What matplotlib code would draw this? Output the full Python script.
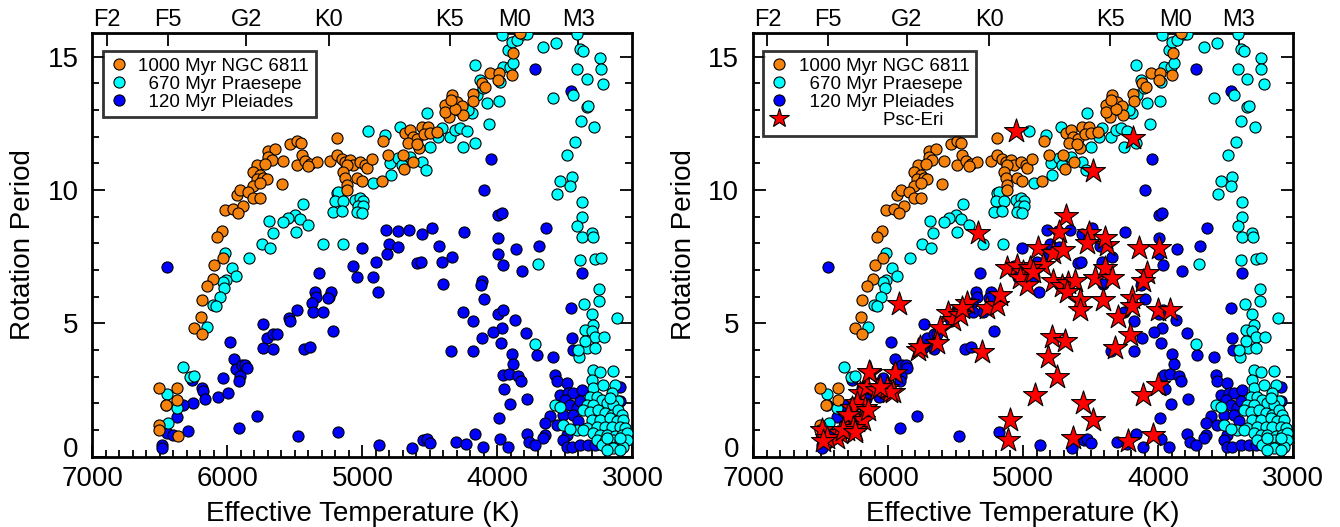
import matplotlib
matplotlib.use("Agg")
import matplotlib.pyplot as plt
from matplotlib.lines import Line2D
from matplotlib.ticker import MultipleLocator
import numpy as np

plt.rcParams['font.family'] = ['Liberation Sans', 'DejaVu Sans']

# ---- data: (Teff [K], Prot [d]) ----
ngc6811 = np.array([
    (5191, 11.96), (5537, 11.71), (5488, 11.84), (5458, 11.76), (5698, 11.46), (5648, 11.53),
    (5698, 11.25), (5673, 11.13), (5779, 10.93), (5722, 10.98), (5586, 11.09), (5488, 10.94),
    (5451, 11.29), (5426, 11.09), (5389, 10.98), (5340, 11.04), (5401, 10.88), (5241, 11.09),
    (5191, 11.31), (5154, 11.16), (5130, 11.06), (5093, 11.13), (5068, 10.94), (5117, 10.94),
    (5019, 11.06), (4982, 10.94), (4969, 10.81), (4932, 11.16), (5142, 10.66), (5130, 10.44),
    (5043, 10.44), (5006, 10.35), (5117, 10.19), (5117, 10.0), (5809, 10.69), (5759, 10.56),
    (5784, 10.40), (5735, 10.44), (5710, 10.40), (5809, 10.13), (5759, 10.25), (5599, 10.23),
    (5932, 9.81), (5907, 10.0), (5846, 9.94), (5809, 9.69), (5759, 9.69), (6019, 9.25),
    (5957, 9.29), (5883, 9.40), (5920, 9.13), (6043, 8.46), (6080, 8.23),
    (4846, 11.84), (4858, 10.35), (4809, 11.29), (4703, 11.31), (4693, 10.79), (4624, 11.04),
    (4685, 12.12), (4648, 12.25), (4629, 12.0), (4594, 11.91), (4661, 11.75), (4562, 12.37),
    (4513, 12.34), (4545, 12.09), (4500, 12.13), (4446, 12.16), (4579, 11.56), (4599, 11.71),
    (4389, 13.19), (4357, 12.75), (4389, 12.91), (4340, 13.56), (4303, 13.31), (4290, 13.0),
    (4266, 13.13), (4258, 12.79), (4315, 13.04), (4347, 13.37), (4184, 13.59), (4179, 13.34),
    (4117, 14.0), (4093, 13.87), (4056, 14.37), (3987, 14.37), (3994, 14.12), (3895, 14.31),
    (3888, 15.12), (3833, 15.87),
    (6100, 7.17), (6036, 7.44), (6110, 6.67), (6154, 6.38), (6191, 5.88), (6199, 5.22),
    (6248, 4.84), (6191, 4.60), (6507, 2.57), (6372, 2.57), (6458, 1.92), (6372, 2.13),
    (6507, 1.19), (6505, 1.0), (6364, 0.76),
])

praesepe = np.array([
    (4957, 12.19), (4920, 10.25), (5191, 9.88), (5179, 9.94), (5204, 9.59), (5142, 9.59),
    (5216, 9.19), (5154, 9.21), (5056, 9.63), (5019, 9.71), (4994, 9.59), (5031, 9.38),
    (4994, 9.38), (5043, 9.19), (5006, 9.13), (5444, 9.48), (5500, 9.06), (5463, 8.90),
    (5550, 8.94), (5587, 8.79), (5401, 8.69), (5493, 8.44), (5693, 8.85), (5666, 8.38),
    (5747, 7.98), (5685, 7.81), (5295, 7.96), (5147, 7.98), (5838, 7.46), (6019, 7.63),
    (5969, 7.06),
    (4833, 12.06), (4789, 10.56), (4796, 11.0), (4735, 11.19), (4710, 10.94), (4648, 11.25),
    (4562, 11.06), (4532, 10.73), (4722, 12.37), (4661, 12.12), (4525, 12.87), (4500, 11.62),
    (4438, 12.0), (4414, 12.31), (4352, 12.0), (4315, 12.25), (4278, 12.31), (4253, 11.62),
    (4229, 12.19), (4167, 11.75), (4191, 12.87), (4216, 13.0), (4154, 13.56), (4130, 14.12),
    (4105, 13.81), (4167, 14.69), (4080, 13.25), (4061, 12.46), (3987, 13.34), (3982, 14.06),
    (3957, 14.62), (3908, 14.62), (3883, 14.75), (3920, 15.25), (3895, 15.56), (3858, 15.62),
    (3969, 15.79), (3809, 15.84), (3784, 15.84),
    (3661, 15.37), (3567, 15.52), (3409, 15.84), (3389, 15.29), (3365, 15.21), (3409, 14.54),
    (3340, 14.15), (3241, 14.96), (3236, 14.54), (3216, 13.96), (3587, 13.46), (3438, 13.56),
    (3340, 13.09), (3327, 13.16), (3384, 12.6), (3285, 12.34), (3426, 11.79), (3483, 11.29),
    (3537, 10.35), (3451, 10.5), (3463, 10.13), (3557, 9.85), (3377, 9.54), (3377, 9.0),
    (3409, 8.63), (3377, 8.25), (3303, 8.38), (3295, 8.23), (3389, 7.38), (3278, 7.41),
    (3236, 7.44), (3698, 7.21),
    (5937, 6.79), (6014, 6.63), (6036, 6.54), (6026, 6.32), (6056, 5.97), (6105, 5.69),
    (6085, 5.63), (6149, 4.85), (6327, 3.35), (6278, 2.97), (6248, 3.04), (6451, 2.35),
    (6377, 1.84), (6438, 1.26),
    (3246, 6.29), (3246, 5.84), (3359, 5.72), (3303, 5.34), (3113, 5.19), (3290, 4.92),
    (3352, 4.75), (3303, 4.72), (3278, 4.5), (3211, 4.5), (3394, 3.75), (3335, 4.07),
    (3722, 4.22),
    (3401, 4.0), (3352, 4.32), (3278, 4.07), (3290, 3.25), (3241, 3.19), (3142, 3.23),
    (3303, 2.88), (3290, 2.57), (3216, 2.69), (3130, 2.69), (3155, 2.38), (3315, 2.25),
    (3266, 2.25), (3229, 2.13), (3105, 2.07), (3340, 1.94), (3290, 1.94), (3192, 2.0),
    (3142, 1.94), (3364, 1.75), (3315, 1.69), (3253, 1.75), (3204, 1.63), (3155, 1.57),
    (3105, 1.75), (3081, 1.57), (3303, 1.38), (3241, 1.38), (3167, 1.44), (3118, 1.32),
    (3068, 1.38), (3512, 1.19), (3414, 1.0), (3340, 1.07), (3266, 1.13), (3204, 1.13),
    (3155, 1.13), (3093, 1.13), (3056, 1.07), (3463, 1.04), (3364, 1.0), (3290, 0.88),
    (3241, 0.82), (3192, 0.82), (3130, 0.76), (3081, 0.82), (3043, 0.88), (3266, 0.63),
    (3204, 0.57), (3142, 0.63), (3093, 0.57), (3043, 0.63), (3229, 0.44), (3167, 0.38),
    (3118, 0.38), (3068, 0.38), (3574, 1.94), (3537, 1.88), (3167, 2.19), (3192, 0.69),
    (3093, 0.69), (3142, 0.32), (3093, 0.26), (3192, 0.26),
])

pleiades = np.array([
    (3722, 14.54), (3458, 13.69), (4048, 11.16), (4100, 10.0), (3994, 9.06), (3969, 9.13),
    (3641, 8.59), (4248, 8.44), (4826, 8.48), (4740, 8.46), (4653, 8.50), (4562, 8.34),
    (4488, 8.59), (3994, 8.19), (3693, 7.91), (3863, 7.79), (5006, 7.81), (4801, 7.96),
    (4735, 7.85), (4433, 7.91), (4340, 7.5), (4821, 7.59), (4900, 7.28), (4414, 7.31),
    (4594, 7.25), (4569, 7.31), (3994, 7.59), (3962, 7.19), (5068, 7.13), (3821, 6.97),
    (6446, 7.1),
    (5038, 6.72), (4920, 6.72), (4883, 6.19), (5320, 6.88), (5352, 6.19), (5344, 5.97),
    (5377, 5.75), (5369, 5.42), (5295, 5.42), (5246, 5.97), (5236, 6.19), (5253, 5.94),
    (5216, 4.73), (5488, 5.50), (5542, 5.19), (5537, 5.07), (5735, 4.97), (5710, 4.44),
    (5661, 4.59), (5636, 4.59), (5740, 4.07), (5661, 4.04), (5433, 4.04), (5389, 4.11),
    (5982, 4.29), (5952, 3.66), (5937, 3.29), (5895, 3.44), (5870, 3.42), (5858, 3.32),
    (5907, 3.04), (5912, 2.82), (6036, 2.96), (6191, 2.57), (6184, 2.47), (6167, 2.17),
    (6068, 2.23), (5999, 2.38), (6265, 2.88), (6258, 2.00), (6327, 1.92), (6377, 1.5),
    (6456, 1.94), (6446, 0.88), (6406, 0.82), (6290, 0.97), (6488, 0.44), (6488, 0.32),
    (5784, 1.54), (5912, 1.09), (5475, 0.76), (5179, 0.92), (4878, 0.42),
    (4406, 6.47), (4117, 6.57), (4125, 6.42), (4100, 5.92), (4253, 5.42), (4179, 5.07),
    (3994, 5.34), (3962, 5.5), (3871, 5.13), (3969, 4.84), (4031, 4.67), (3977, 4.28),
    (4117, 4.44), (4179, 3.98), (4347, 3.97), (3789, 4.63), (3895, 3.84), (3883, 3.47),
    (3957, 3.07), (3913, 3.09), (3846, 3.04), (3829, 2.84), (3952, 2.54), (3908, 1.97),
    (3779, 2.17), (3987, 1.44), (3458, 5.57), (3451, 4.44), (3377, 6.88), (4636, 0.32),
    (4549, 0.63), (4525, 0.67), (4500, 0.51), (4308, 0.54), (4233, 0.47), (4167, 0.86),
    (4110, 0.38), (3982, 0.67), (3920, 0.38), (3784, 0.84), (3764, 0.54),
    (3710, 3.82), (3587, 3.75), (3574, 3.07), (3562, 2.82), (3488, 2.75), (3537, 2.32),
    (3475, 2.38), (3438, 2.38), (3377, 2.50), (3500, 2.13), (3463, 1.94), (3414, 1.82),
    (3389, 2.07), (3512, 1.57), (3438, 1.57), (3401, 1.32), (3611, 1.51), (3648, 1.26),
    (3562, 1.19), (3488, 0.82), (3648, 0.82), (3661, 0.69), (3722, 0.44), (3512, 0.63),
    (3488, 0.38), (3451, 0.38), (3389, 0.44), (3327, 0.44), (3278, 0.44), (3093, 2.63),
    (3093, 2.07), (3253, 0.82), (3204, 0.69), (3443, 4.0),
])

psc_eri = np.array([
    (5331, 8.38), (5052, 12.19), (4183, 11.94), (4479, 10.71), (4682, 9.04), (4731, 8.44),
    (4509, 8.38), (4886, 7.81), (4775, 7.63), (4701, 7.75), (4528, 8.0), (4380, 7.94),
    (4393, 8.19), (4138, 7.81), (3990, 7.81), (4849, 7.19), (4775, 6.57), (4714, 6.38),
    (4664, 6.50), (4615, 6.57), (4677, 6.19), (4578, 5.88), (4578, 5.50), (4405, 5.88),
    (4467, 6.69), (4393, 7.07), (4343, 6.69), (4294, 5.25), (4195, 5.94), (4195, 5.63),
    (4208, 4.57), (4319, 4.07), (4084, 6.88), (4109, 6.57), (3998, 5.50), (3911, 5.50),
    (4788, 4.5), (4689, 4.32), (4812, 3.75), (4751, 3.0), (4911, 2.32), (4553, 2.0),
    (4479, 1.38), (4109, 2.32), (3998, 2.69), (4627, 0.69), (4220, 0.57), (4035, 0.82),
    (5096, 1.38), (5109, 0.63), (5121, 7.07), (5047, 7.13), (4998, 6.94), (4948, 7.07),
    (5022, 6.69), (4973, 6.44), (4924, 6.94), (5269, 5.57), (5195, 5.69), (5170, 6.07),
    (5306, 3.94), (5553, 5.38), (5516, 5.13), (5467, 5.32), (5417, 5.75), (5454, 5.57),
    (5615, 4.82), (5640, 4.25), (5775, 4.0), (5763, 4.13), (5916, 5.72), (6133, 3.13),
    (5948, 3.13), (6208, 2.38), (6158, 2.63), (6084, 2.51), (6010, 2.57), (5961, 2.44),
    (6232, 2.0), (6171, 1.82), (6269, 1.82), (6282, 1.44), (6232, 1.32), (6183, 1.38),
    (6306, 1.0), (6245, 1.0), (6356, 0.88), (6380, 0.69), (6491, 1.0), (6454, 0.69),
    (6479, 0.57), (6138, 3.19), (5985, 2.44), (6059, 2.63), (6146, 1.75), (6294, 1.57),
    (6257, 1.07), (6331, 1.0), (6244, 0.94),
])

spt_teff = [6894, 6444, 5862, 5249, 4355, 3870, 3401]
spt_labels = ["F2", "F5", "G2", "K0", "K5", "M0", "M3"]

C_ORANGE = "#f5820d"
C_CYAN = "#00ffff"
C_BLUE = "#0000ff"
C_RED = "#ff0000"

fig = plt.figure(figsize=(13.4, 5.27), dpi=100)
ax1 = fig.add_axes([0.069, 0.1334, 0.403, 0.8034])
ax2 = fig.add_axes([0.562, 0.1334, 0.403, 0.8034])

circ = dict(s=64, edgecolors="black", linewidths=0.8)


def draw_panel(ax, with_stars):
    ax.scatter(pleiades[:, 0], pleiades[:, 1], c=C_BLUE, zorder=2, **circ)
    ax.scatter(praesepe[:, 0], praesepe[:, 1], c=C_CYAN, zorder=3, **circ)
    ax.scatter(ngc6811[:, 0], ngc6811[:, 1], c=C_ORANGE, zorder=4, **circ)
    if with_stars:
        ax.scatter(psc_eri[:, 0], psc_eri[:, 1], marker="*", s=330, c=C_RED,
                   edgecolors="black", linewidths=0.8, zorder=5)
    ax.set_xlim(7000, 3000)
    ax.set_ylim(0, 15.87)
    ax.set_xticks([7000, 6000, 5000, 4000, 3000])
    ax.xaxis.set_minor_locator(MultipleLocator(100))
    ax.set_yticks([0, 5, 10, 15])
    ax.yaxis.set_minor_locator(MultipleLocator(1))
    ax.tick_params(which="both", direction="in", top=False, right=True,
                   labelsize=20, width=1.3)
    ax.tick_params(which="major", length=9)
    ax.tick_params(which="minor", length=5)
    ax.tick_params(axis="x", which="major", pad=7)
    ax.tick_params(axis="y", which="major", pad=10)
    for sp in ax.spines.values():
        sp.set_linewidth(2)
    ax.set_xlabel("Effective Temperature (K)", fontsize=20, labelpad=6)
    ax.set_ylabel("Rotation Period", fontsize=20, labelpad=8)
    ax.get_yticklabels()[0].set_va("baseline")

    top = ax.secondary_xaxis("top")
    top.set_xticks(spt_teff)
    top.set_xticklabels(spt_labels)
    top.tick_params(direction="in", length=9, width=1.3, labelsize=17, pad=2)

    handles = [
        Line2D([], [], marker="o", ls="", mfc=C_ORANGE, mec="black", mew=0.8, ms=8),
        Line2D([], [], marker="o", ls="", mfc=C_CYAN, mec="black", mew=0.8, ms=8),
        Line2D([], [], marker="o", ls="", mfc=C_BLUE, mec="black", mew=0.8, ms=8),
    ]
    labels = ["1000 Myr NGC 6811", "  670 Myr Praesepe", "  120 Myr Pleiades"]
    if with_stars:
        handles.append(Line2D([], [], marker="*", ls="", mfc=C_RED, mec="black",
                              mew=0.8, ms=15))
        labels.append(" " * 16 + "Psc-Eri")
    leg = ax.legend(handles, labels, loc="upper left", bbox_to_anchor=(0.019, 0.958),
                    borderaxespad=0, fontsize=13.5, frameon=True, fancybox=False,
                    handletextpad=0.55, labelspacing=0.05, borderpad=0.35,
                    handlelength=1.0)
    leg.get_frame().set_edgecolor("black")
    leg.get_frame().set_linewidth(2)
    leg.set_zorder(10)


draw_panel(ax1, False)
draw_panel(ax2, True)

fig.savefig("out.png", dpi=100)
